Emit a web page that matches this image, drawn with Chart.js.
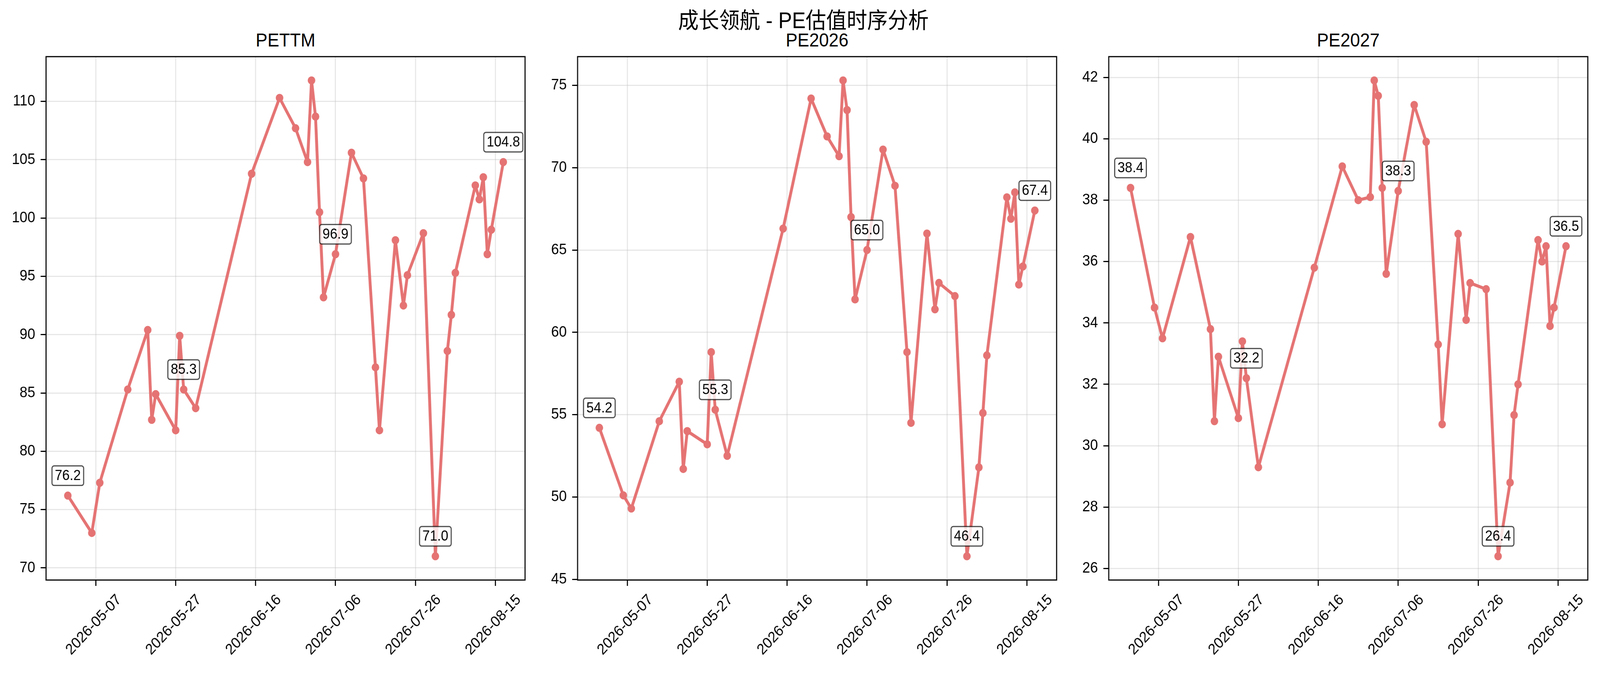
<!DOCTYPE html>
<html>
<head>
<meta charset="utf-8">
<script src="https://cdn.jsdelivr.net/npm/chart.js@4.4.0/dist/chart.umd.min.js"></script>
<style>
  html, body { margin: 0; padding: 0; background: #fff; overflow: hidden; }
  #root { position: absolute; left: 0; top: 0; width: 4449px; height: 1723px; transform-origin: 0 0;
          font-family: "Liberation Sans", "Noto Sans CJK SC", sans-serif; background: #fff; }
  .suptitle { position: absolute; left: 1234px; width: 2000px; top: 24px; text-align: center;
              font-size: 57px; line-height: 57px; color: #000; white-space: nowrap; }
  .subtitle { position: absolute; width: 600px; top: 78px; text-align: center;
              font-size: 49px; line-height: 49px; color: #000; }
  canvas { position: absolute; top: 0; }
</style>
</head>
<body>
<div id="root">
  <div class="suptitle">成长领航 - PE估值时序分析</div>
  <div id="titles"></div>
  <div id="charts"></div>
</div>
<script>
// DATA

const dates = [
  '2026-04-30', '2026-05-06', '2026-05-08', '2026-05-15', '2026-05-20', '2026-05-21', '2026-05-22',
  '2026-05-27', '2026-05-28', '2026-05-29', '2026-06-01', '2026-06-15', '2026-06-22', '2026-06-26',
  '2026-06-29', '2026-06-30', '2026-07-01', '2026-07-02', '2026-07-03', '2026-07-06', '2026-07-10',
  '2026-07-13', '2026-07-16', '2026-07-17', '2026-07-21', '2026-07-23', '2026-07-24', '2026-07-28',
  '2026-07-31', '2026-08-03', '2026-08-04', '2026-08-05', '2026-08-10', '2026-08-11', '2026-08-12',
  '2026-08-13', '2026-08-14', '2026-08-17'
];
const peTTM = [76.2, 73.0, 77.3, 85.3, 90.4, 82.7, 84.9, 81.8, 89.9, 85.3, 83.7, 103.8, 110.3, 107.7,
  104.8, 111.8, 108.7, 100.5, 93.2, 96.9, 105.6, 103.4, 87.2, 81.8, 98.1, 92.5, 95.1, 98.7,
  71.0, 88.6, 91.7, 95.3, 102.8, 101.6, 103.5, 96.9, 99.0, 104.8];
const pe2026 = [54.2, 50.1, 49.3, 54.6, 57.0, 51.7, 54.0, 53.2, 58.8, 55.3, 52.5, 66.3, 74.2, 71.9,
  70.7, 75.3, 73.5, 67.0, 62.0, 65.0, 71.1, 68.9, 58.8, 54.5, 66.0, 61.4, 63.0, 62.2,
  46.4, 51.8, 55.1, 58.6, 68.2, 66.9, 68.5, 62.9, 64.0, 67.4];
const pe2027 = [38.4, 34.5, 33.5, 36.8, 33.8, 30.8, 32.9, 30.9, 33.4, 32.2, 29.3, 35.8, 39.1, 38.0,
  38.1, 41.9, 41.4, 38.4, 35.6, 38.3, 41.1, 39.9, 33.3, 30.7, 36.9, 34.1, 35.3, 35.1,
  26.4, 28.8, 31.0, 32.0, 36.7, 36.0, 36.5, 33.9, 34.5, 36.5];
const panelTitles = ['PETTM', 'PE2026', 'PE2027'];
const yStepSizes = [5, 5, 2];
const labelIdx = [0, 9, 19, 28, 37];   // points with a value box
const xStepDays = 20;

// LAYOUT

const W = 4449, H = 1723;
const FONT = "'Liberation Sans', Arial, sans-serif";
const LINE_COLOR = 'rgb(229,115,115)';
const PLOT_LEFT = [128, 1606, 3083];
const PLOT_W = 1332;
const Y_AXIS_W = 128;
const RIGHT_PAD = 20;
const PLOT_TOP = 145;
const PLOT_BOTTOM = 1485;

// stretch the 4449x1723 design over the whole viewport
const root = document.getElementById('root');
root.style.transform = 'scale(' + (window.innerWidth / W) + ',' + (window.innerHeight / H) + ')';

Chart.defaults.font.family = FONT;
Chart.defaults.color = '#000';

const DAY = 86400000;
function dayNum(s) {
  const p = s.split('-').map(Number);
  return Date.UTC(p[0], p[1] - 1, p[2]) / DAY;
}
function dayLabel(v) {
  return new Date(Math.round(v) * DAY).toISOString().slice(0, 10);
}
function padRange(arr) {
  const lo = Math.min(...arr), hi = Math.max(...arr);
  const m = (hi - lo) * 0.05;
  return [lo - m, hi + m];
}

const xs = dates.map(dayNum);
const xRange = padRange(xs);

// frame + value boxes
const boxPlugin = {
  id: 'boxes',
  afterDatasetsDraw(chart) {
    const ctx = chart.ctx, a = chart.chartArea;
    ctx.save();
    ctx.strokeStyle = '#000';
    ctx.lineWidth = 3;
    ctx.strokeRect(a.left, a.top, a.right - a.left, a.bottom - a.top);

    const xS = chart.scales.x, yS = chart.scales.y;
    const data = chart.data.datasets[0].data;
    ctx.font = '37px ' + FONT;
    ctx.textAlign = 'center';
    ctx.textBaseline = 'middle';
    labelIdx.forEach(i => {
      const pt = data[i];
      const px = xS.getPixelForValue(pt.x);
      const py = yS.getPixelForValue(pt.y);
      const txt = pt.y.toFixed(1);
      const w = ctx.measureText(txt).width + 16;
      const h = 50;
      const bx = px - w / 2, by = py - 26 - h;
      ctx.beginPath();
      ctx.roundRect(bx, by, w, h, 6);
      ctx.fillStyle = 'rgba(255,255,255,0.8)';
      ctx.fill();
      ctx.lineWidth = 3;
      ctx.strokeStyle = 'rgba(0,0,0,0.7)';
      ctx.stroke();
      ctx.fillStyle = '#000';
      ctx.fillText(txt, px, by + h / 2 + 1);
    });
    ctx.restore();
  }
};

function draw(k, values) {
  const left = PLOT_LEFT[k] - Y_AXIS_W;
  const width = Y_AXIS_W + PLOT_W + RIGHT_PAD;

  const t = document.createElement('div');
  t.className = 'subtitle';
  t.textContent = panelTitles[k];
  t.style.left = (PLOT_LEFT[k] + PLOT_W / 2 - 300) + 'px';
  document.getElementById('titles').appendChild(t);

  const cv = document.createElement('canvas');
  cv.width = width;
  cv.height = H;
  cv.style.left = left + 'px';
  document.getElementById('charts').appendChild(cv);

  const yRange = padRange(values);
  const gridColor = 'rgba(176,176,176,0.3)';

  new Chart(cv.getContext('2d'), {
    type: 'line',
    data: {
      datasets: [{
        data: values.map((v, i) => ({ x: xs[i], y: v })),
        borderColor: LINE_COLOR,
        backgroundColor: LINE_COLOR,
        borderWidth: 8,
        borderJoinStyle: 'round',
        borderCapStyle: 'round',
        pointRadius: 10.5,
        pointBorderWidth: 0,
        pointBackgroundColor: LINE_COLOR,
        tension: 0,
        fill: false
      }]
    },
    options: {
      responsive: false,
      animation: false,
      devicePixelRatio: 1,
      layout: { padding: { top: PLOT_TOP, right: RIGHT_PAD, left: 0, bottom: 0 } },
      plugins: { legend: { display: false }, tooltip: { enabled: false }, title: { display: false } },
      scales: {
        x: {
          type: 'linear',
          min: xRange[0],
          max: xRange[1],
          border: { display: false },
          grid: { color: gridColor, lineWidth: 3, tickLength: 15, tickColor: '#000', tickWidth: 3 },
          afterBuildTicks(s) {
            // date ticks on multiples of 20 days since the epoch (as matplotlib does)
            const ticks = [];
            for (let v = Math.ceil(s.min / xStepDays) * xStepDays; v <= s.max; v += xStepDays) {
              ticks.push({ value: v });
            }
            s.ticks = ticks;
          },
          ticks: {
            autoSkip: false,
            minRotation: 45,
            maxRotation: 45,
            labelOffset: 65,
            padding: 13,
            color: '#000',
            font: { size: 39 },
            callback: v => dayLabel(v)
          },
          afterFit(s) { s.height = H - PLOT_BOTTOM; s.paddingLeft = 0; s.paddingRight = 0; }
        },
        y: {
          min: yRange[0],
          max: yRange[1],
          border: { display: false },
          grid: { color: gridColor, lineWidth: 3, tickLength: 15, tickColor: '#000', tickWidth: 3 },
          ticks: {
            stepSize: yStepSizes[k],
            includeBounds: false,
            padding: 15,
            color: '#000',
            font: { size: 39 }
          },
          afterFit(s) { s.width = Y_AXIS_W; s.paddingTop = 0; s.paddingBottom = 0; }
        }
      }
    },
    plugins: [boxPlugin]
  });
}

draw(0, peTTM);
draw(1, pe2026);
draw(2, pe2027);
</script>
</body>
</html>
